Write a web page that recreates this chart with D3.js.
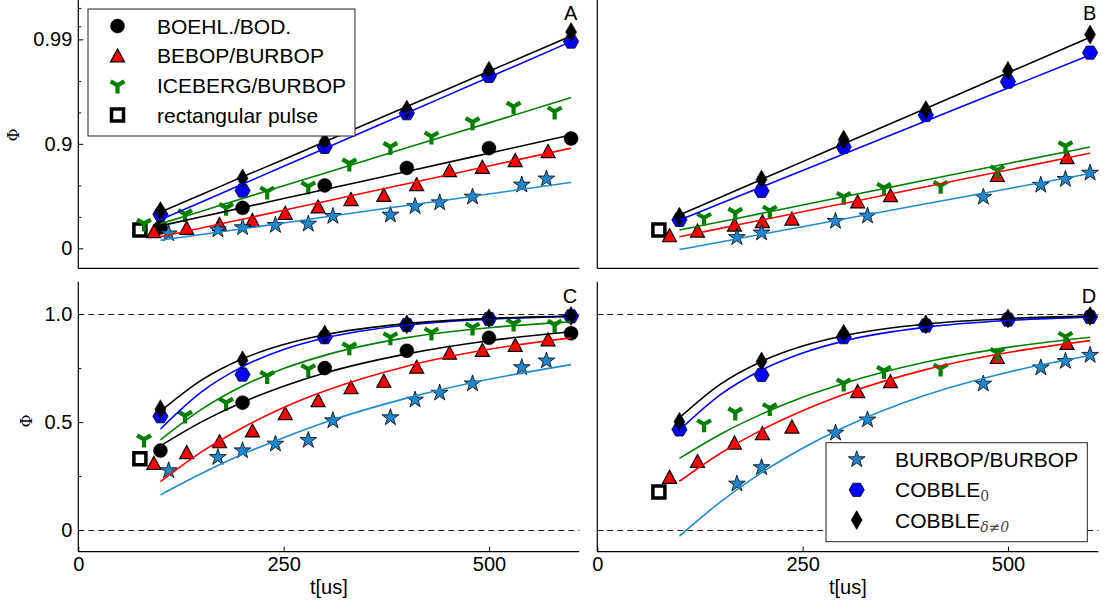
<!DOCTYPE html>
<html>
<head>
<meta charset="utf-8">
<script src="https://cdn.jsdelivr.net/npm/d3@7"></script>
<style>
  body { margin: 0; background: #fff; }
  text { font-family: "Liberation Sans", Arial, sans-serif; }
</style>
</head>
<body>
<script>
// ---- values ----
// left column (panels A and C): t in us, phi
var tBoL = [100, 200, 300, 400, 500, 600];
var phiBoL = [0.368, 0.59, 0.75, 0.83, 0.89, 0.911];
var tBeL = [92, 132, 172, 212, 252, 292, 332, 372, 412, 452, 492, 532, 572];
var phiBeL = [0.31, 0.36, 0.41, 0.46, 0.54, 0.60, 0.66, 0.69, 0.755, 0.82, 0.833, 0.856, 0.882];
var tIcL = [80, 130, 180, 230, 280, 330, 380, 430, 480, 530, 580];
var phiIcL = [0.42, 0.53, 0.59, 0.714, 0.745, 0.846, 0.893, 0.915, 0.938, 0.956, 0.951];
var tBuL = [110, 170, 200, 240, 280, 310, 380, 410, 440, 480, 540, 570];
var phiBuL = [0.276, 0.337, 0.368, 0.399, 0.416, 0.507, 0.521, 0.603, 0.635, 0.678, 0.753, 0.784];
var tC0L = [100, 200, 300, 400, 500, 600];
var phiC0L = [0.527, 0.72, 0.893, 0.949, 0.9776, 0.9895];
var tCdL = [100, 200, 300, 400, 500, 600];
var phiCdL = [0.56, 0.786, 0.905, 0.953, 0.98, 0.9915];

// right column (panels B and D)
var tBeR = [88, 122, 167, 201, 237, 317, 357, 487, 572];
var phiBeR = [0.245, 0.319, 0.404, 0.447, 0.478, 0.642, 0.688, 0.80, 0.865];
var tIcR = [130, 168, 210, 300, 349, 418, 487, 570];
var phiIcR = [0.49, 0.545, 0.565, 0.679, 0.737, 0.748, 0.821, 0.895];
var tBuR = [170, 200, 290, 329, 470, 540, 570, 600];
var phiBuR = [0.214, 0.29, 0.45, 0.511, 0.677, 0.752, 0.782, 0.81];
var tC0R = [100, 200, 300, 400, 500, 600];
var phiC0R = [0.466, 0.718, 0.893, 0.947, 0.9746, 0.9866];
var tCdR = [100, 200, 300, 400, 500, 600];
var phiCdR = [0.502, 0.781, 0.909, 0.9525, 0.98, 0.991];

// rectangular pulse
var tRect = [75];
var phiRectA = [0.332], phiRectB = [0.332], phiRectC = [0.33], phiRectD = [0.176];

// fitted curves, read at these times
var tFit = [100, 150, 200, 250, 300, 400, 500, 600];
var fitBoL = [0.390, 0.501, 0.592, 0.666, 0.727, 0.816, 0.877, 0.918];
var fitBeL = [0.224, 0.362, 0.474, 0.568, 0.644, 0.759, 0.837, 0.890];
var fitIcL = [0.418, 0.559, 0.667, 0.748, 0.809, 0.891, 0.937, 0.964];
var fitBuL = [0.163, 0.262, 0.351, 0.428, 0.498, 0.611, 0.698, 0.766];
var fitC0L = [0.468, 0.640, 0.757, 0.836, 0.889, 0.9494, 0.9769, 0.9895];
var fitCdL = [0.550, 0.694, 0.793, 0.859, 0.9045, 0.956, 0.9798, 0.9907];
var fitBeR = [0.226, 0.356, 0.464, 0.553, 0.628, 0.743, 0.822, 0.877];
var fitIcR = [0.332, 0.444, 0.537, 0.615, 0.679, 0.778, 0.846, 0.893];
var fitBuR = [-0.028, 0.131, 0.266, 0.379, 0.475, 0.625, 0.731, 0.808];
var fitC0R = [0.463, 0.627, 0.741, 0.820, 0.875, 0.9395, 0.9708, 0.9859];
var fitCdR = [0.520, 0.676, 0.781, 0.852, 0.900, 0.954, 0.9791, 0.99045];

// ticks
var xTicks = [0, 250, 500];
var yTopTicks = [0, 0.9, 0.99];
var yTopMinor = [0.5, 0.75, 0.95, 0.975, 0.9925, 0.995];
var yBotTicks = [0, 0.5, 1.0];
var yBotTickLabels = ['0', '0.5', '1.0'];
var yBotMinor = [0.25, 0.75];

var legendA = [['bo', 'BOEHL./BOD.'], ['be', 'BEBOP/BURBOP'], ['ic', 'ICEBERG/BURBOP'], ['rect', 'rectangular pulse']];
var legendD = [['bu', 'BURBOP/BURBOP', ''], ['c0', 'COBBLE', '0'], ['cd', 'COBBLE', 'δ≠0']];

// ---- setup ----
var W = 1112, H = 610;
var svg = d3.select('body').append('svg').attr('width', W).attr('height', H);
svg.append('rect').attr('width', W).attr('height', H).attr('fill', '#fff');

var x = d3.scaleLinear().domain([0, 610]).range([0, 501]);
var yTop = d3.scaleLog().domain([1.553, 0.0042]).range([268.3, 0]);   // applied to 1 - phi
var yBot = d3.scaleLinear().domain([-0.1, 1.15]).range([551.7, 281.7]);

var style = {
  rect: {shape: 'square', fill: '#fff', stroke: '#000', sw: 3.5},
  bo: {shape: 'circle', fill: '#000', stroke: '#000', sw: 0.5, line: '#000'},
  be: {shape: 'triangle', fill: '#ff0000', stroke: '#000', sw: 1.2, line: '#ff0000'},
  ic: {shape: 'tri', fill: 'none', stroke: '#008000', sw: 4.2, line: '#008000'},
  bu: {shape: 'star', fill: '#1f86cc', stroke: '#000', sw: 0.8, line: '#1f8ad0'},
  c0: {shape: 'hex', fill: '#0000ff', stroke: '#000', sw: 0.8, line: '#0000ff'},
  cd: {shape: 'diamond', fill: '#000', stroke: '#000', sw: 0.5, line: '#000'}
};
var markOrder = ['rect', 'bo', 'be', 'ic', 'bu', 'c0', 'cd'];
var lineOrder = ['bu', 'be', 'ic', 'bo', 'c0', 'cd'];

function shapePath(s) {
  var i, a, pts = [];
  if (s === 'circle') return 'M7,0A7,7 0 1,1 -7,0A7,7 0 1,1 7,0Z';
  if (s === 'triangle') return 'M0,-6.8L7,6.2L-7,6.2Z';
  if (s === 'tri') return 'M0,0L0,8M0,0L-6.9,-4M0,0L6.9,-4';
  if (s === 'square') return 'M-6,-6h12v12h-12Z';
  if (s === 'diamond') return 'M0,-9.5L5.5,0L0,9.5L-5.5,0Z';
  if (s === 'hex') {
    for (i = 0; i < 6; i++) { a = i * Math.PI / 3; pts.push([7.6 * Math.cos(a), 7.6 * Math.sin(a)]); }
    return 'M' + pts.join('L') + 'Z';
  }
  // star
  for (i = 0; i < 10; i++) {
    a = -Math.PI / 2 + i * Math.PI / 5;
    var r = i % 2 ? 3.4 : 8.8;
    pts.push([r * Math.cos(a), r * Math.sin(a)]);
  }
  return 'M' + pts.join('L') + 'Z';
}

function pts(t, p) { return t.map(function(d, i) { return [d, p[i]]; }); }

var panels = [
  {label: 'A', x0: 78.3, top: true, yAxis: true,
   marks: {rect: pts(tRect, phiRectA), bo: pts(tBoL, phiBoL), be: pts(tBeL, phiBeL), ic: pts(tIcL, phiIcL),
           bu: pts(tBuL, phiBuL), c0: pts(tC0L, phiC0L), cd: pts(tCdL, phiCdL)},
   fits: {bo: fitBoL, be: fitBeL, ic: fitIcL, bu: fitBuL, c0: fitC0L, cd: fitCdL}},
  {label: 'B', x0: 597.3, top: true, yAxis: false,
   marks: {rect: pts(tRect, phiRectB), be: pts(tBeR, phiBeR), ic: pts(tIcR, phiIcR),
           bu: pts(tBuR, phiBuR), c0: pts(tC0R, phiC0R), cd: pts(tCdR, phiCdR)},
   fits: {be: fitBeR, ic: fitIcR, bu: fitBuR, c0: fitC0R, cd: fitCdR}},
  {label: 'C', x0: 78.3, top: false, yAxis: true,
   marks: {rect: pts(tRect, phiRectC), bo: pts(tBoL, phiBoL), be: pts(tBeL, phiBeL), ic: pts(tIcL, phiIcL),
           bu: pts(tBuL, phiBuL), c0: pts(tC0L, phiC0L), cd: pts(tCdL, phiCdL)},
   fits: {bo: fitBoL, be: fitBeL, ic: fitIcL, bu: fitBuL, c0: fitC0L, cd: fitCdL}},
  {label: 'D', x0: 597.3, top: false, yAxis: false,
   marks: {rect: pts(tRect, phiRectD), be: pts(tBeR, phiBeR), ic: pts(tIcR, phiIcR),
           bu: pts(tBuR, phiBuR), c0: pts(tC0R, phiC0R), cd: pts(tCdR, phiCdR)},
   fits: {be: fitBeR, ic: fitIcR, bu: fitBuR, c0: fitC0R, cd: fitCdR}}
];

function styleAxis(ax) {
  ax.select('.domain').remove();
  ax.selectAll('.tick line').attr('stroke', '#000').attr('stroke-width', 1);
  ax.selectAll('.tick text').attr('font-size', 20).attr('fill', '#000')
    .attr('font-family', '"Liberation Sans", Arial, sans-serif');
}

panels.forEach(function(p) {
  var g = svg.append('g').attr('transform', 'translate(' + p.x0 + ',0)');
  var yf = p.top ? function(v) { return yTop(1 - v); } : yBot;
  var yB = p.top ? 268.3 : 551.7, yT = p.top ? 0 : 281.7;

  if (!p.top) {
    g.selectAll('.ref').data([0, 1]).enter().append('line')
      .attr('x1', 0).attr('x2', x(610))
      .attr('y1', function(d) { return Math.round(yBot(d)) + 0.5; })
      .attr('y2', function(d) { return Math.round(yBot(d)) + 0.5; })
      .attr('stroke', '#222').attr('stroke-width', 1).attr('stroke-dasharray', '6,4');
  }

  markOrder.forEach(function(k) {
    if (!p.marks[k]) return;
    var s = style[k];
    g.selectAll('.m-' + k).data(p.marks[k]).enter().append('path')
      .attr('transform', function(d) { return 'translate(' + x(d[0]) + ',' + yf(d[1]) + ')'; })
      .attr('d', shapePath(s.shape))
      .attr('fill', s.fill).attr('stroke', s.stroke).attr('stroke-width', s.sw)
      .attr('stroke-linejoin', 'miter');
  });

  var line = d3.line().x(function(d) { return x(d[0]); }).y(function(d) { return yf(d[1]); })
    .curve(d3.curveMonotoneX);
  lineOrder.forEach(function(k) {
    if (!p.fits[k]) return;
    g.append('path').datum(pts(tFit, p.fits[k])).attr('d', line)
      .attr('fill', 'none').attr('stroke', style[k].line).attr('stroke-width', 1.6);
  });

  // spines
  g.append('line').attr('x1', 0).attr('x2', 0).attr('y1', yT).attr('y2', yB)
    .attr('stroke', '#000').attr('stroke-width', 1.2);
  g.append('line').attr('x1', 0).attr('x2', x(610)).attr('y1', yB).attr('y2', yB)
    .attr('stroke', '#000').attr('stroke-width', 1.2);

  if (p.top && p.yAxis) {
    var a1 = g.append('g').call(d3.axisLeft(yTop)
      .tickValues(yTopTicks.map(function(v) { return 1 - v; }))
      .tickFormat(function(d, i) { return String(yTopTicks[i]); })
      .tickSizeInner(-5).tickSizeOuter(0).tickPadding(6));
    styleAxis(a1);
    var a2 = g.append('g').call(d3.axisLeft(yTop)
      .tickValues(yTopMinor.map(function(v) { return 1 - v; }))
      .tickFormat('').tickSizeInner(-3).tickSizeOuter(0));
    styleAxis(a2);
  }
  if (!p.top) {
    if (p.yAxis) {
      var b1 = g.append('g').call(d3.axisLeft(yBot).tickValues(yBotTicks)
        .tickFormat(function(d, i) { return yBotTickLabels[i]; })
        .tickSizeInner(-5).tickSizeOuter(0).tickPadding(6));
      styleAxis(b1);
      var b2 = g.append('g').call(d3.axisLeft(yBot).tickValues(yBotMinor)
        .tickFormat('').tickSizeInner(-3).tickSizeOuter(0));
      styleAxis(b2);
    }
    var xa = g.append('g').attr('transform', 'translate(0,' + yB + ')')
      .call(d3.axisBottom(x).tickValues(xTicks).tickFormat(d3.format('d'))
        .tickSizeInner(-5).tickSizeOuter(0).tickPadding(5));
    styleAxis(xa);
    g.append('text').attr('x', x(305)).attr('y', 594).attr('text-anchor', 'middle')
      .attr('font-size', 20).text('t[us]');
  }

  g.append('text').attr('x', x(610) - 2).attr('y', p.top ? 20 : 303)
    .attr('text-anchor', 'end').attr('font-size', 20).text(p.label);
});

// y labels
[[13.5, 135], [26.5, 421]].forEach(function(pos) {
  svg.append('text').attr('transform', 'translate(' + pos[0] + ',' + pos[1] + ') rotate(-90)')
    .attr('text-anchor', 'middle').attr('dominant-baseline', 'central')
    .attr('font-size', 16).style('font-family', '"DejaVu Serif", "Liberation Serif", serif')
    .text('Φ');
});

// legends
function legend(bx, by, bw, bh, mx, tx, cy0, dy, entries) {
  var lg = svg.append('g');
  lg.append('rect').attr('x', bx).attr('y', by).attr('width', bw).attr('height', bh)
    .attr('fill', '#fff').attr('stroke', '#222').attr('stroke-width', 1);
  entries.forEach(function(e, i) {
    var s = style[e[0]], cy = cy0 + i * dy;
    lg.append('path').attr('transform', 'translate(' + mx + ',' + cy + ')')
      .attr('d', shapePath(s.shape)).attr('fill', s.fill).attr('stroke', s.stroke).attr('stroke-width', s.sw);
    var t = lg.append('text').attr('x', tx).attr('y', cy + 7.5).attr('font-size', 21).text(e[1]);
    if (e[2]) {
      t.append('tspan').attr('dy', 4).attr('font-size', 14).attr('fill', '#444')
        .style('font-family', '"DejaVu Serif", "Liberation Serif", serif')
        .style('font-style', e[2] === '0' ? 'normal' : 'italic')
        .text(e[2]);
    }
  });
}
legend(88, 9, 267, 127, 117.5, 157, 26, 29.7, legendA);
legend(826, 442.7, 261.3, 99, 856.7, 895, 459.5, 30.3, legendD);
</script>
</body>
</html>
